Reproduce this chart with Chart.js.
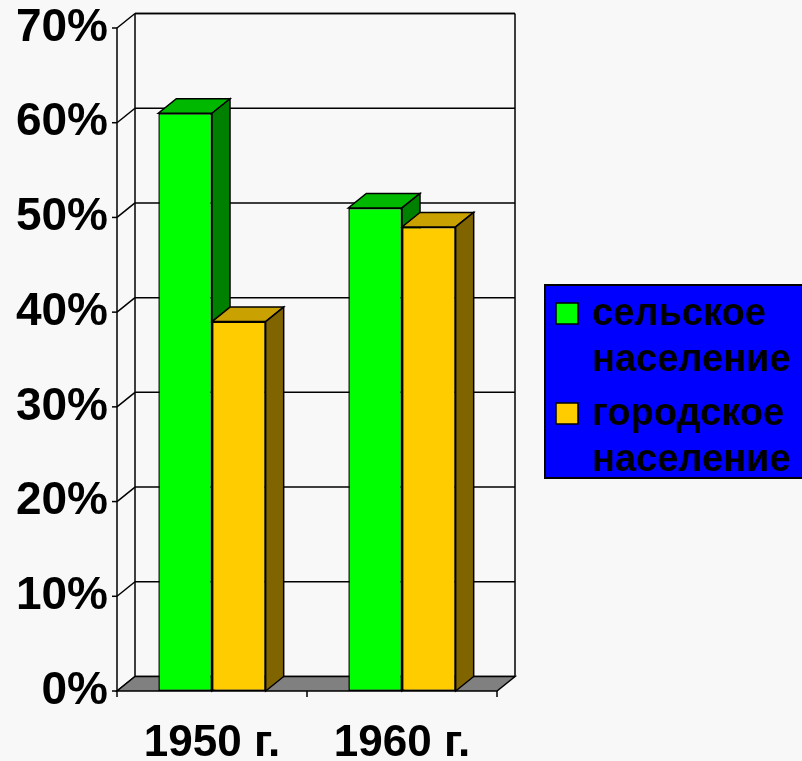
<!DOCTYPE html>
<html>
<head>
<meta charset="utf-8">
<script src="https://cdn.jsdelivr.net/npm/chart.js@4"></script>
<style>
  html, body { margin: 0; padding: 0; background: #f8f8f8; }
  #wrap { width: 802px; height: 761px; }
</style>
</head>
<body>
<div id="wrap"><canvas id="chart"></canvas></div>
<script>
// chart data
const categories = ['1950 г.', '1960 г.'];
const seriesNames = ['сельское население', 'городское население'];
const ruralValues = [61, 51];
const urbanValues = [39, 49];
const yTicks = [0, 10, 20, 30, 40, 50, 60, 70];

// colours: front, top, side
const greenFaces = ['#00ff00', '#00b800', '#008000'];
const orangeFaces = ['#ffcc00', '#c9a100', '#806400'];

const DX = 18, DY = -14.5;
const FONT = '"Liberation Sans", Arial, sans-serif';

function poly(ctx, pts, fill) {
    ctx.beginPath();
    ctx.moveTo(pts[0][0], pts[0][1]);
    for (let i = 1; i < pts.length; i++) ctx.lineTo(pts[i][0], pts[i][1]);
    ctx.closePath();
    if (fill) { ctx.fillStyle = fill; ctx.fill(); }
    ctx.stroke();
}

function line(ctx, x1, y1, x2, y2) {
    ctx.beginPath();
    ctx.moveTo(x1, y1);
    ctx.lineTo(x2, y2);
    ctx.stroke();
}

const box3d = {
    id: 'box3d',
    beforeDatasetsDraw(chart) {
        const ctx = chart.ctx;
        const a = chart.chartArea;
        const y = chart.scales.y;
        const x = chart.scales.x;
        ctx.save();
        ctx.strokeStyle = '#000';
        ctx.lineWidth = 1.5;

        // back wall + side wall + grid
        line(ctx, a.left + DX, a.top + DY, a.right + DX, a.top + DY);
        line(ctx, a.left + DX, a.top + DY, a.left + DX, a.bottom + DY);
        line(ctx, a.right + DX, a.top + DY, a.right + DX, a.bottom + DY);
        line(ctx, a.left, a.top, a.left, a.bottom);
        yTicks.forEach(v => {
            const py = y.getPixelForValue(v);
            line(ctx, a.left + DX, py + DY, a.right + DX, py + DY);
            line(ctx, a.left, py, a.left + DX, py + DY);
            line(ctx, a.left - 5, py, a.left, py);
        });

        // floor
        poly(ctx, [[a.left, a.bottom], [a.right, a.bottom], [a.right + DX, a.bottom + DY], [a.left + DX, a.bottom + DY]], '#808080');
        const mid = (x.getPixelForValue(0) + x.getPixelForValue(1)) / 2;
        [a.left, mid, a.right].forEach(px => line(ctx, px, a.bottom, px, a.bottom + 6));

        // top and side faces of the bars
        chart.data.datasets.forEach((ds, i) => {
            const meta = chart.getDatasetMeta(i);
            meta.data.forEach(el => {
                const p = el.getProps(['x', 'y', 'base', 'width'], true);
                const l = p.x - p.width / 2, r = p.x + p.width / 2;
                poly(ctx, [[l, p.y], [r, p.y], [r + DX, p.y + DY], [l + DX, p.y + DY]], ds.faces[1]);
                poly(ctx, [[r, p.y], [r + DX, p.y + DY], [r + DX, p.base + DY], [r, p.base]], ds.faces[2]);
            });
        });
        ctx.restore();
    },
    afterDraw(chart) {
        // legend box
        const ctx = chart.ctx;
        ctx.save();
        ctx.fillStyle = '#0000ff';
        ctx.strokeStyle = '#000';
        ctx.lineWidth = 2;
        ctx.fillRect(545, 285, 262, 193);
        ctx.strokeRect(545, 285, 262, 193);
        ctx.font = 'bold 38px ' + FONT;
        ctx.textBaseline = 'alphabetic';
        ctx.textAlign = 'left';
        chart.data.datasets.forEach((ds, i) => {
            const top = 303 + i * 100;
            ctx.fillStyle = ds.faces[0];
            ctx.lineWidth = 1.5;
            ctx.fillRect(556, top, 22, 21);
            ctx.strokeRect(556, top, 22, 21);
            ctx.fillStyle = '#000';
            ds.label.split(' ').forEach((w, j) => {
                ctx.fillText(w, 592, top + 22 + j * 46);
            });
        });
        ctx.restore();
    }
};

new Chart(document.getElementById('chart'), {
    type: 'bar',
    data: {
        labels: categories,
        datasets: [
            { label: seriesNames[0], data: ruralValues, faces: greenFaces, backgroundColor: greenFaces[0] },
            { label: seriesNames[1], data: urbanValues, faces: orangeFaces, backgroundColor: orangeFaces[0] }
        ]
    },
    options: {
        responsive: true,
        maintainAspectRatio: false,
        animation: false,
        layout: { padding: { top: 28, right: 305, left: 0, bottom: 0 } },
        datasets: {
            bar: {
                borderColor: '#000',
                borderWidth: 1.5,
                borderSkipped: false,
                categoryPercentage: 0.565,
                barPercentage: 1
            }
        },
        plugins: {
            legend: { display: false },
            tooltip: { enabled: false }
        },
        scales: {
            x: {
                grid: { display: false, drawTicks: false },
                border: { display: false },
                ticks: { color: '#000', padding: 26, font: { family: FONT, size: 44, weight: 'bold' } },
                afterFit: s => { s.height = 70; s.paddingLeft = 0; s.paddingRight = 0; }
            },
            y: {
                min: 0,
                max: 70,
                grid: { display: false, drawTicks: false },
                border: { display: false },
                ticks: {
                    stepSize: 10,
                    color: '#000',
                    padding: 9,
                    font: { family: FONT, size: 46, weight: 'bold' },
                    callback: v => v + '%'
                },
                afterFit: s => { s.width = 117; s.paddingTop = 0; s.paddingBottom = 0; }
            }
        }
    },
    plugins: [box3d]
});
</script>
</body>
</html>
